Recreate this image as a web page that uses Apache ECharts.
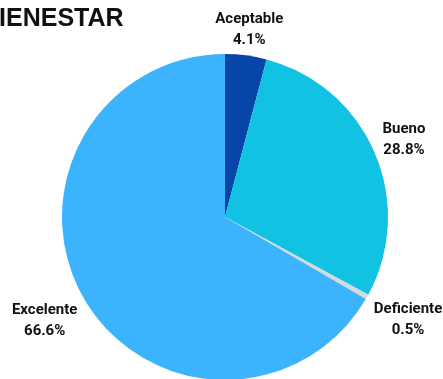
<!DOCTYPE html>
<html>
<head>
<meta charset="utf-8">
<style>
  html, body { margin: 0; padding: 0; background: #ffffff; }
  #chart { width: 443px; height: 379px; }
</style>
<script src="https://cdn.jsdelivr.net/npm/echarts@6/dist/echarts.min.js"></script>
</head>
<body>
<div id="chart"></div>
<script>
// Survey results: share of responses per rating
const categories = ['Aceptable', 'Bueno', 'Deficiente', 'Excelente'];
const shares = [4.1, 28.8, 0.5, 66.6];

// Slice colours and how far each label sits beyond the rim
const sliceColors = ['#0646a8', '#12c2e3', '#d3dadd', '#3cb4fd'];
const labelGap = [26, 32, 47, 45];

const chart = echarts.init(document.getElementById('chart'), null, { renderer: 'canvas' });

chart.setOption({
  animation: false,
  backgroundColor: '#ffffff',
  graphic: [{
    type: 'text',
    x: -19,
    y: -19.5,
    style: {
      text: 'PERCEPCIÓN DEL\nBIENESTAR',
      font: 'bold 25px "Liberation Sans", Arial, sans-serif',
      lineHeight: 26,
      fill: '#111111',
      textAlign: 'left',
      textVerticalAlign: 'top'
    }
  }],
  series: [{
    type: 'pie',
    center: [225, 217],
    radius: 163,
    startAngle: 90,
    clockwise: true,
    avoidLabelOverlap: false,
    itemStyle: { borderWidth: 0 },
    label: {
      show: true,
      position: 'outside',
      distanceToLabelLine: 0,
      formatter: p => p.name + '\n' + p.value.toFixed(1) + '%',
      fontFamily: 'Roboto',
      fontWeight: 'bold',
      fontSize: 15,
      lineHeight: 21,
      color: '#111111'
    },
    labelLine: { show: false, length2: 0 },
    labelLayout: { align: 'center', verticalAlign: 'middle' },
    data: categories.map((name, i) => ({
      name: name,
      value: shares[i],
      itemStyle: { color: sliceColors[i] },
      labelLine: { length: labelGap[i], length2: 0 }
    }))
  }]
});
</script>
</body>
</html>
